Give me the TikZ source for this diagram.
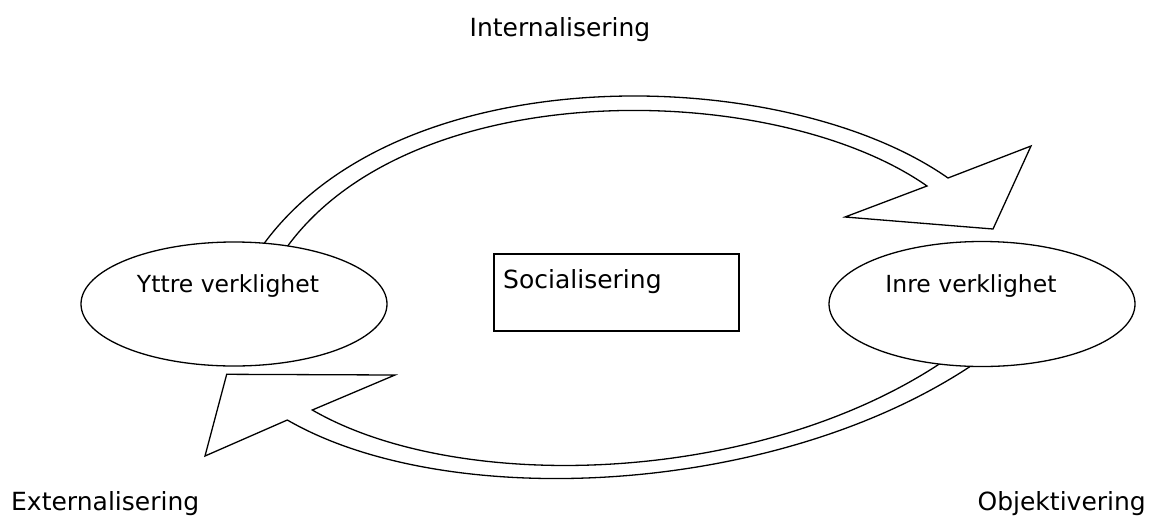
\documentclass[tikz,border=0pt]{standalone}
\usepackage{fontspec}
\setmainfont{DejaVu Sans}
\usetikzlibrary{shapes.geometric}
\tikzset{
  lbl/.style={inner sep=0pt, font=\fontsize{25}{30}\selectfont},
  elltxt/.style={inner sep=0pt, font=\fontsize{23.5}{28}\selectfont},
  ellbox/.style={draw, ellipse, fill=white, inner sep=0pt, line width=1.3pt},
  recbox/.style={draw, fill=white, inner sep=0pt, line width=1.3pt},
  band/.style={draw, fill=white, line width=1.3pt, line join=miter},
}
\begin{document}
\begin{tikzpicture}[x=1pt,y=-1pt]
\useasboundingbox (0,0) rectangle (1155,517);
% named points of the two curved arrows
\coordinate (t1) at (260.4,248.6);
\coordinate (t2) at (948,178);
\coordinate (t3) at (1031,146);
\coordinate (t4) at (993,229);
\coordinate (t5) at (845,217);
\coordinate (t6) at (927,186);
\coordinate (t7) at (284.4,250.6);
\coordinate (b1) at (974.6,363.5);
\coordinate (b2) at (287.3,420);
\coordinate (b3) at (205,456);
\coordinate (b4) at (226.7,374.3);
\coordinate (b5) at (395,375);
\coordinate (b6) at (312.3,410);
\coordinate (b7) at (944.6,360.5);
% top arrow (Internalisering)
\path[band] (t1) .. controls (397,53.6) and (784.2,63.2) .. (t2) -- (t3) -- (t4) -- (t5) -- (t6)
  .. controls (775.5,79.8) and (409.5,72) .. (t7) -- cycle;
% bottom arrow (Externalisering)
\path[band] (b1) .. controls (777.3,496.6) and (447.2,512.5) .. (b2) -- (b3) -- (b4) -- (b5) -- (b6)
  .. controls (459.2,495) and (759.8,485.2) .. (b7) -- cycle;
% ellipses and box
\node[ellbox, minimum width=306pt, minimum height=124pt] (yttre) at (234,304) {};
\node[ellbox, minimum width=306pt, minimum height=125pt] (inre) at (982,304) {};
\node[recbox, minimum width=245pt, minimum height=77pt] (soc) at (616.5,292.5) {};
% texts
\node[elltxt, anchor=base] (yttretxt) at (228,292.7) {Yttre verklighet};
\node[elltxt, anchor=base] (inretxt) at (971,292.7) {Inre verklighet};
\node[lbl, anchor=base west] (soctxt) at (503,288) {Socialisering};
\node[lbl, anchor=base] (intern) at (560,36) {Internalisering};
\node[lbl, anchor=base west] (extern) at (11,510) {Externalisering};
\node[lbl, anchor=base east] (objekt) at (1146,510) {Objektivering};
\end{tikzpicture}
\end{document}
